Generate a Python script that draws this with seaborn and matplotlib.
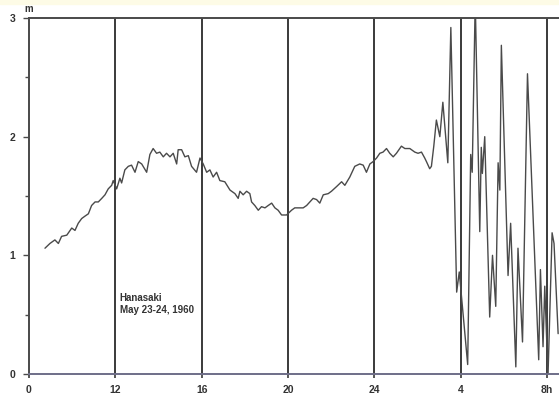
import numpy as np
import pandas as pd
import matplotlib.pyplot as plt
import seaborn as sns
from matplotlib.patches import Rectangle

# Tide gauge record, Hanasaki, May 23-24 1960 (hours, metres)
hours = [
    8.74, 8.97, 9.20, 9.36, 9.51, 9.75, 9.98, 10.13, 10.28, 10.44, 10.59, 10.75,
    10.90, 11.06, 11.21, 11.37, 11.52, 11.67, 11.83, 11.90, 12.06, 12.21, 12.29,
    12.44, 12.60, 12.75, 12.91, 13.06, 13.22, 13.45, 13.60, 13.75, 13.91, 14.06,
    14.22, 14.37, 14.53, 14.68, 14.84, 14.91, 15.07, 15.22, 15.38, 15.53, 15.76,
    15.92, 16.07, 16.23, 16.38, 16.53, 16.69, 16.84, 17.07, 17.31, 17.54, 17.69,
    17.77, 17.92, 18.08, 18.23, 18.31, 18.46, 18.62, 18.77, 18.93, 19.08, 19.24,
    19.39, 19.54, 19.70, 19.93, 20.16, 20.31, 20.55, 20.70, 20.86, 21.01, 21.16,
    21.32, 21.47, 21.63, 21.86, 22.01, 22.25, 22.48, 22.63, 22.86, 23.09, 23.32,
    23.48, 23.63, 23.79, 23.94, 24.10, 24.25, 24.40, 24.56, 24.71, 24.87, 25.02,
    25.25, 25.41, 25.64, 25.87, 26.02, 26.18, 26.33, 26.41, 26.56, 26.64, 26.75,
    26.87, 27.03, 27.17, 27.40, 27.54, 27.81, 27.93, 28.32, 28.46, 28.53, 28.67,
    28.88, 28.95, 29.00, 29.11, 29.34, 29.47, 29.62, 29.73, 29.81, 29.88, 30.19,
    30.31, 30.55, 30.65, 30.86, 31.09, 31.61, 31.69, 31.81, 31.89, 32.04, 32.23,
    32.32, 32.51,
]
level = [
    1.06, 1.10, 1.13, 1.10, 1.16, 1.17, 1.23, 1.21, 1.27, 1.31, 1.33, 1.35,
    1.42, 1.45, 1.45, 1.48, 1.51, 1.56, 1.59, 1.63, 1.56, 1.65, 1.61,
    1.72, 1.75, 1.76, 1.70, 1.79, 1.77, 1.70, 1.85, 1.90, 1.86, 1.87,
    1.83, 1.86, 1.83, 1.86, 1.77, 1.89, 1.89, 1.83, 1.84, 1.75, 1.70,
    1.82, 1.77, 1.70, 1.72, 1.66, 1.70, 1.63, 1.62, 1.55, 1.52, 1.48,
    1.54, 1.51, 1.54, 1.52, 1.45, 1.42, 1.38, 1.41, 1.40, 1.42, 1.44,
    1.40, 1.38, 1.34, 1.34, 1.38, 1.40, 1.40, 1.40, 1.42, 1.45, 1.48,
    1.47, 1.44, 1.51, 1.52, 1.54, 1.58, 1.62, 1.59, 1.66, 1.75, 1.77,
    1.76, 1.70, 1.77, 1.79, 1.82, 1.86, 1.87, 1.90, 1.86, 1.83, 1.86,
    1.92, 1.90, 1.90, 1.87, 1.86, 1.87, 1.82, 1.79, 1.73, 1.75, 1.92,
    2.14, 2.00, 2.29, 1.78, 2.92, 0.69, 0.86, 0.08, 1.85, 1.70, 3.15,
    1.20, 1.91, 1.69, 2.00, 0.48, 1.00, 0.57, 1.78, 1.55, 2.77, 0.83,
    1.27, 0.06, 1.06, 0.27, 2.53, 0.12, 0.88, 0.23, 0.74, -0.02, 1.19,
    1.10, 0.34,
]

tick_pos = [8, 12, 16, 20, 24, 28, 32]
tick_labels = ['0', '12', '16', '20', '24', '4', '8h']
y_ticks = [0, 1, 2, 3]

df = pd.DataFrame({'hour': hours, 'level': level})

sns.set_style('white')
plt.rcParams['font.family'] = ['Liberation Sans', 'DejaVu Sans']

fig = plt.figure(figsize=(5.59, 3.98), dpi=100)
fig.patch.set_facecolor('white')
fig.patches.append(Rectangle((0, 0.99), 1, 0.01, transform=fig.transFigure,
                             color='#fdfbe6', zorder=0))

ax = fig.add_axes([29 / 559, 24 / 398, 530 / 559, 356 / 398])

# vertical hour lines
for t in tick_pos[1:]:
    ax.axvline(t, color='#3a3a3a', lw=1.4, zorder=1)

sns.lineplot(data=df, x='hour', y='level', estimator=None, sort=False,
             color='#4a4a4a', lw=1.0, ax=ax, zorder=2)

ax.set_xlim(8, 32.55)
ax.set_ylim(0, 3)

for side in ['left', 'top', 'bottom']:
    ax.spines[side].set_visible(True)
    ax.spines[side].set_color('#4a4a4a')
    ax.spines[side].set_linewidth(1.4)
ax.spines['bottom'].set_color('#6e6e88')
ax.spines['right'].set_visible(False)

ax.set_xticks(tick_pos)
ax.set_xticklabels(tick_labels, fontsize=7.5, fontweight='bold', color='#333333')
ax.set_yticks(y_ticks)
ax.set_yticklabels([str(v) for v in y_ticks], fontsize=7.5, fontweight='bold',
                   color='#333333')
ax.set_yticks([0.5, 1.5, 2.5], minor=True)
ax.tick_params(axis='y', which='major', direction='out', length=4, width=1,
               color='#4a4a4a', pad=6, left=True)
ax.tick_params(axis='y', which='minor', direction='out', length=3, width=1,
               color='#4a4a4a', left=True)
ax.tick_params(axis='x', direction='out', length=3, width=1.2,
               color='#3a3a3a', pad=5, bottom=True)
ax.set_xlabel('')
ax.set_ylabel('')

ax.text(8, 3.075, 'm', fontsize=7, fontweight='bold', color='#333333',
        ha='center', va='center')
ax.text(12.2, 0.68, 'Hanasaki\nMay 23-24, 1960', fontsize=7, fontweight='bold',
        color='#333333', ha='left', va='top', linespacing=1.15)

fig.savefig('out.png', dpi=100)
